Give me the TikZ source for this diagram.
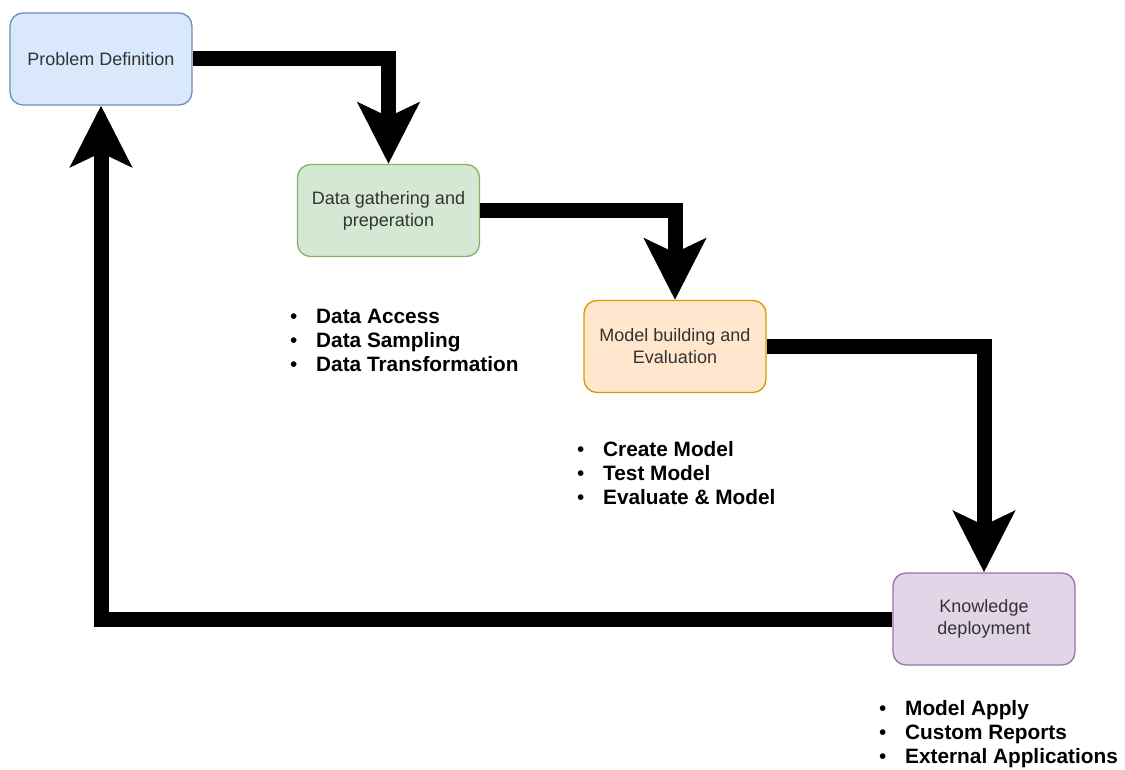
\documentclass[tikz,border=0pt]{standalone}
\usepackage{fontspec}
\setmainfont{Liberation Sans}
\usetikzlibrary{arrows.meta}
\definecolor{txtgrey}{HTML}{333333}
\definecolor{bluef}{HTML}{DAE8FC}\definecolor{blued}{HTML}{6C8EBF}
\definecolor{greenf}{HTML}{D5E8D4}\definecolor{greend}{HTML}{82B366}
\definecolor{orangef}{HTML}{FFE6CC}\definecolor{oranged}{HTML}{D79B00}
\definecolor{purplef}{HTML}{E1D5E7}\definecolor{purpled}{HTML}{9673A6}
\tikzset{
  stagebox/.style={rounded corners=13pt, line width=1.3pt, minimum width=182pt, minimum height=92pt,
    inner sep=0pt, align=center, text=txtgrey, font=\fontsize{18}{22}\selectfont},
  bigarrow/.style={line width=15pt, -{Stealth[length=61pt, width=61pt, inset=14pt]}},
  listtxt/.style={inner sep=0pt, align=left, anchor=west, font=\fontsize{20.8}{24}\selectfont\bfseries}
}
\newcommand{\bul}{\makebox[26pt][l]{\mdseries•}}
\begin{document}
\begin{tikzpicture}[x=1pt,y=-1pt]
\useasboundingbox (0,0) rectangle (1125,770);
\node[stagebox, fill=bluef, draw=blued] (pd) at (101,59) {Problem Definition};
\node[stagebox, fill=greenf, draw=greend] (dg) at (388.5,210.5) {Data gathering and\\preperation};
\node[stagebox, fill=orangef, draw=oranged] (mb) at (675,346.5) {Model building and\\Evaluation};
\node[stagebox, fill=purplef, draw=purpled] (kd) at (984,619) {Knowledge\\deployment};

\node[listtxt] (l1) at (290,340) {\bul Data Access\\\bul Data Sampling\\\bul Data Transformation};
\node[listtxt] (l2) at (577,473) {\bul Create Model\\\bul Test Model\\\bul Evaluate \& Model};
\node[listtxt] (l3) at (879,734) {\bul Model Apply\\\bul Custom Reports\\\bul External Applications};

\draw[bigarrow] (pd.east) -| (dg.north);
\draw[bigarrow] (dg.east) -| (mb.north);
\draw[bigarrow] (mb.east) -| (kd.north);
\draw[bigarrow] (kd.west) -| (pd.south);
\end{tikzpicture}
\end{document}
